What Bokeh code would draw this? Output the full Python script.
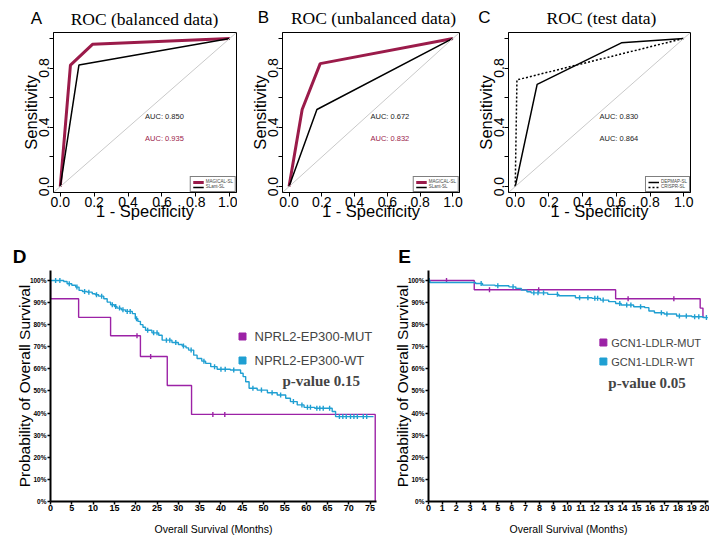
import math
from bokeh.plotting import figure
from bokeh.models import (Range1d, FixedTicker, CustomJSTickFormatter, Label, Slope,
                          Legend, LegendItem)
from bokeh.core.properties import value
from bokeh.layouts import row, column
from bokeh.embed import file_html
from bokeh.resources import INLINE

# ---------------- ROC data ----------------
roc_ticks = [0.0, 0.2, 0.4, 0.6, 0.8, 1.0]

a_title = "ROC (balanced data)"
a_magical_fpr = [0.0, 0.06, 0.19, 1.0]
a_magical_tpr = [0.0, 0.82, 0.96, 1.0]
a_slant_fpr = [0.0, 0.11, 1.0]
a_slant_tpr = [0.0, 0.82, 1.0]
a_auc = ["AUC: 0.850", "AUC: 0.935"]
a_legend = ["MAGICAL-SL", "SLant-SL"]

b_title = "ROC (unbalanced data)"
b_magical_fpr = [0.0, 0.08, 0.19, 1.0]
b_magical_tpr = [0.0, 0.52, 0.83, 1.0]
b_slant_fpr = [0.0, 0.17, 1.0]
b_slant_tpr = [0.0, 0.52, 1.0]
b_auc = ["AUC: 0.672", "AUC: 0.832"]
b_legend = ["MAGICAL-SL", "SLant-SL"]

c_title = "ROC (test data)"
c_depmap_fpr = [0.0, 0.13, 0.63, 1.0]
c_depmap_tpr = [0.0, 0.69, 0.97, 1.0]
c_crispr_fpr = [0.0, 0.01, 1.0]
c_crispr_tpr = [0.0, 0.72, 1.0]
c_auc = ["AUC: 0.830", "AUC: 0.864"]
c_legend = ["DEPMAP-SL", "CRISPR-SL"]

auc_pos_x = 0.615
auc_pos_y = [0.47, 0.325]

panel_letters = ["A", "B", "C", "D", "E"]

# ---------------- Kaplan-Meier data ----------------
d_ticks_x = [0, 5, 10, 15, 20, 25, 30, 35, 40, 45, 50, 55, 60, 65, 70, 75]
e_ticks_x = list(range(0, 21))
km_ticks_y = [0, 10, 20, 30, 40, 50, 60, 70, 80, 90, 100]

d_labels = ["NPRL2-EP300-MUT", "NPRL2-EP300-WT", "p-value 0.15"]
d_mut_times = [0.0, 6.6, 14.1, 21.1, 27.4, 33.1, 76.2]
d_mut_surv = [91.7, 83.3, 75.0, 65.6, 52.5, 39.4, 0.0]
d_mut_end = 76.2
d_mut_censor = [20.3, 23.5, 38.1, 40.9]

d_wt_times = [3.1, 3.9, 5.0, 5.9, 6.7, 7.5, 8.6, 9.8, 10.5, 11.3, 12.5, 13.3, 14.1,
              15.0, 15.6, 16.6, 17.6, 19.2, 19.9, 20.5, 21.1, 21.7, 22.3, 23.8, 25.4,
              26.2, 28.5, 30.0, 30.9, 31.8, 32.4, 33.6, 34.4, 35.5, 36.4, 37.6, 39.1,
              42.2, 44.6, 45.2, 45.8, 46.6, 48.5, 50.9, 53.2, 55.2, 56.3, 57.9, 59.5,
              62.0, 66.1, 66.9]
d_wt_surv = [99.5, 98.5, 97.8, 97.0, 95.5, 95.0, 94.7, 94.0, 93.5, 92.9, 91.7, 90.2, 89.0,
             88.2, 87.5, 86.7, 86.0, 85.0, 82.7, 81.5, 80.0, 78.8, 77.5, 76.3, 75.2,
             73.0, 71.9, 71.0, 70.3, 69.5, 68.5, 66.2, 64.7, 63.5, 62.5, 61.0, 59.8,
             59.5, 58.0, 56.5, 54.2, 51.2, 50.4, 49.2, 48.2, 46.7, 45.2, 43.7, 42.6,
             42.2, 40.7, 38.4]
d_wt_end = 75.8
d_wt_censor = [1.2, 2.2, 4.4, 6.2, 8.0, 9.0, 10.8, 12.0, 14.5, 15.3, 16.2, 17.0, 18.0,
               18.7, 20.2, 22.8, 24.2, 25.0, 27.2, 28.0, 29.4, 31.2, 33.0, 36.0, 38.5,
               40.0, 41.0, 43.0, 47.5, 49.5, 52.0, 54.0, 57.0, 59.0, 60.3, 61.0, 62.5,
               63.2, 64.0, 65.5, 67.8, 68.6, 69.4, 70.4, 71.2, 72.0, 73.4, 74.2]

e_labels = ["GCN1-LDLR-MUT", "GCN1-LDLR-WT", "p-value 0.05"]
e_mut_times = [3.3, 13.5, 19.6, 19.8]
e_mut_surv = [95.8, 91.7, 87.5, 83.3]
e_mut_end = 20.0
e_mut_censor = [1.3, 4.4, 7.95, 14.4, 17.7]

e_wt_times = [0.1, 3.4, 3.9, 4.8, 5.8, 6.3, 6.7, 7.1, 7.4, 8.6, 9.4, 10.6, 11.8, 12.4,
              13.0, 13.5, 13.9, 14.8, 15.6, 15.9, 16.3, 17.0, 17.9, 19.0, 19.8]
e_wt_surv = [99.1, 98.6, 97.9, 97.6, 97.1, 96.4, 95.6, 94.9, 94.4, 93.7, 93.1, 92.2, 91.9,
             91.1, 90.4, 89.6, 88.9, 88.1, 87.7, 86.2, 85.4, 84.8, 83.9, 83.6, 83.2]
e_wt_end = 20.15
e_wt_censor = [0.05, 3.8, 5.0, 6.1, 7.6, 7.9, 8.3, 9.3, 10.9, 11.5, 12.0, 12.2, 12.6,
               13.8, 14.3, 14.6, 15.3, 16.8, 17.2, 18.1, 18.6, 19.2, 19.5, 20.05]

# ---------------- styling ----------------
CRIMSON = "#9B1B4A"
PURPLE = "#9C22A6"
CYAN = "#1F9FD2"
SANS = "Liberation Sans"
SERIF = "Liberation Serif"
PAGE_W = 709


def header(height, texts):
    """A strip without axes that carries panel letters and titles (page px coords)."""
    h = figure(width=PAGE_W, height=height, x_range=Range1d(0, PAGE_W),
               y_range=Range1d(0, height), x_axis_type=None, y_axis_type=None,
               min_border=0, output_backend="svg", toolbar_location=None)
    h.grid.visible = False
    h.outline_line_color = None
    for txt, x, y, font, size, style in texts:
        h.text(x=[x], y=[y], text=[txt], text_font=value(font), text_font_size=value(size),
               text_font_style=style, text_align="center", text_baseline="middle",
               text_color="black")
    return h


def roc_panel(curves, aucs, auc_colors, width, border_left, border_right):
    lo, hi = -0.04, 1.04
    p = figure(width=width, height=204, x_range=Range1d(lo, hi), y_range=Range1d(lo, hi),
               min_border_left=border_left, min_border_right=border_right,
               min_border_top=4, min_border_bottom=40,
               output_backend="svg", toolbar_location=None)
    p.grid.visible = False
    p.outline_line_color = "black"
    p.outline_line_alpha = 1.0
    p.outline_line_width = 1

    p.add_layout(Slope(gradient=1, y_intercept=0, line_color="#c9c9c9", line_width=1))
    items = []
    for xs, ys, col, lw, dash, lab in curves:
        r = p.line(xs, ys, line_color=col, line_width=lw, line_dash=dash)
        items.append(LegendItem(label=lab, renderers=[r]))

    for txt, yy, col in zip(aucs, auc_pos_y, auc_colors):
        p.add_layout(Label(x=auc_pos_x, y=yy, text=txt, text_font=SANS,
                           text_font_size="7.5px", text_color=col,
                           text_align="center", text_baseline="middle"))

    leg = Legend(items=items, location="bottom_right", label_text_font_size="4.5px",
                 label_text_font=SANS, glyph_width=11, glyph_height=4, label_height=4,
                 label_standoff=2, padding=2, spacing=0, margin=0,
                 border_line_color="black", border_line_width=0.6,
                 background_fill_color="white", background_fill_alpha=1.0)
    p.add_layout(leg)

    xa = p.xaxis[0]
    xa.ticker = FixedTicker(ticks=roc_ticks)
    xa.formatter = CustomJSTickFormatter(code="return tick.toFixed(1);")
    ya = p.yaxis[0]
    ya.ticker = FixedTicker(ticks=roc_ticks)
    ya.formatter = CustomJSTickFormatter(
        code="return (Math.round(tick*10) % 4 == 0) ? tick.toFixed(1) : '';")
    ya.major_label_orientation = "vertical"
    for ax in (xa, ya):
        ax.axis_line_color = "black"
        ax.major_tick_line_color = "black"
        ax.major_tick_out = 4
        ax.major_tick_in = 0
        ax.minor_tick_line_color = None
        ax.major_label_standoff = 0
        ax.major_label_text_font = SANS
        ax.major_label_text_font_size = "14px"
        ax.major_label_text_color = "black"
        ax.axis_label_text_font = SANS
        ax.axis_label_text_font_size = "16.5px"
        ax.axis_label_text_font_style = "normal"
        ax.axis_label_text_color = "black"
    xa.axis_label = "1 - Specificity"
    xa.axis_label_standoff = -8
    ya.axis_label = "Sensitivity"
    ya.axis_label_standoff = -3
    return p


def step_xy(times, surv, end):
    xs = [0.0] + list(times) + [end]
    ys = [100.0] + list(surv) + [surv[-1]]
    return xs, ys


def surv_at(t, times, surv):
    s = 100.0
    for ti, si in zip(times, surv):
        if ti <= t:
            s = si
    return s


def km_panel(groups, labels, xticks, xmax, width, border_left, border_right,
             frame_left, sq_px, txt_px, pv_px, legend_size, ylab_standoff):
    ymax = 104.5
    top, bottom, height = 2, 36, 269
    fh = height - top - bottom
    fw = width - border_left - border_right
    frame_top = 270
    p = figure(width=width, height=height, x_range=Range1d(0, xmax),
               y_range=Range1d(0, ymax),
               min_border_left=border_left, min_border_right=border_right,
               min_border_top=top, min_border_bottom=bottom,
               output_backend="svg", toolbar_location=None)
    p.grid.visible = False
    p.outline_line_color = None

    def px2x(px):
        return (px - frame_left) * xmax / fw

    def py2y(py):
        return ymax - (py - frame_top) * ymax / fh

    for times, surv, end, cens, col in groups:
        xs, ys = step_xy(times, surv, end)
        p.step(xs, ys, mode="after", line_color=col, line_width=1.4)
        cy = [surv_at(t, times, surv) for t in cens]
        p.scatter(cens, cy, marker="dash", angle=math.pi / 2, size=5,
                  line_color=col, line_width=1.4)

    cols = [groups[0][4], groups[1][4]]
    for (sx, sy), (tx, ty), lab, col in zip(sq_px, txt_px, labels[:2], cols):
        p.scatter([px2x(sx)], [py2y(sy)], marker="square", size=7,
                  fill_color=col, line_color=col)
        p.add_layout(Label(x=px2x(tx), y=py2y(ty), text=lab, text_font=SANS,
                           text_font_size=legend_size, text_baseline="middle"))
    p.add_layout(Label(x=px2x(pv_px[0]), y=py2y(pv_px[1]), text=labels[2],
                       text_font=SERIF, text_font_size="15px", text_font_style="bold",
                       text_baseline="middle"))

    xa = p.xaxis[0]
    xa.ticker = FixedTicker(ticks=xticks)
    ya = p.yaxis[0]
    ya.ticker = FixedTicker(ticks=km_ticks_y)
    ya.formatter = CustomJSTickFormatter(code="return tick.toFixed(0) + '%';")
    for ax in (xa, ya):
        ax.axis_line_color = "black"
        ax.axis_line_width = 2
        ax.major_tick_line_color = "black"
        ax.major_tick_line_width = 1.5
        ax.major_tick_out = 3
        ax.major_tick_in = 0
        ax.minor_tick_line_color = None
        ax.major_label_text_font = SANS
        ax.major_label_text_font_style = "bold"
        ax.major_label_text_color = "black"
        ax.axis_label_text_font = SANS
        ax.axis_label_text_font_style = "normal"
        ax.axis_label_text_color = "black"
    xa.major_label_text_font_size = "9px"
    xa.major_label_standoff = 0
    xa.axis_label = "Overall Survival (Months)"
    xa.axis_label_text_font_size = "10.5px"
    xa.axis_label_standoff = 9
    ya.major_label_text_font_size = "6.5px"
    ya.major_label_standoff = 1
    ya.axis_label = "Probability of Overall Survival"
    ya.axis_label_text_font_size = "15.5px"
    ya.axis_label_standoff = ylab_standoff
    return p


# header strip above the ROC panels (x = page px, y measured up from strip bottom)
top_header = header(28, [
    (panel_letters[0], 36, 10, SANS, "17px", "normal"),
    (a_title, 144, 10, SERIF, "17.5px", "normal"),
    (panel_letters[1], 263, 11, SANS, "17px", "normal"),
    (b_title, 373, 11, SERIF, "17.5px", "normal"),
    (panel_letters[2], 484, 11, SANS, "17px", "normal"),
    (c_title, 601, 11, SERIF, "17.5px", "normal"),
])

pa = roc_panel([(a_magical_fpr, a_magical_tpr, CRIMSON, 3, "solid", a_legend[0]),
                (a_slant_fpr, a_slant_tpr, "black", 1.5, "solid", a_legend[1])],
               a_auc, ["#222222", CRIMSON], 237, 53, 1)
pb = roc_panel([(b_magical_fpr, b_magical_tpr, CRIMSON, 3, "solid", b_legend[0]),
                (b_slant_fpr, b_slant_tpr, "black", 1.5, "solid", b_legend[1])],
               b_auc, ["#222222", CRIMSON], 226, 45, 4)
pc = roc_panel([(c_depmap_fpr, c_depmap_tpr, "black", 1.5, "solid", c_legend[0]),
                (c_crispr_fpr, c_crispr_tpr, "black", 1.5, "2 2", c_legend[1])],
               c_auc, ["#222222", "#222222"], 237, 45, 10)

mid_header = header(36, [
    (panel_letters[3], 19, 12, SANS, "19px", "bold"),
    (panel_letters[4], 404, 12, SANS, "19px", "bold"),
])

pd = km_panel([(d_mut_times, d_mut_surv, d_mut_end, d_mut_censor, PURPLE),
               (d_wt_times, d_wt_surv, d_wt_end, d_wt_censor, CYAN)],
              d_labels, d_ticks_x, 76.5, 390, 50, 14, 50,
              [(242, 336), (242, 360)], [(254, 336), (254, 360)], (282, 380), "13px", -6)
pe = km_panel([(e_mut_times, e_mut_surv, e_mut_end, e_mut_censor, PURPLE),
               (e_wt_times, e_wt_surv, e_wt_end, e_wt_censor, CYAN)],
              e_labels, e_ticks_x, 20.2, 319, 33, 1, 423,
              [(601, 342), (601, 361)], [(609, 342), (609, 361)], (606, 382), "11px", -6)

layout = column(top_header, row(pa, pb, pc), mid_header, row(pd, pe))
open("out.html", "w").write(file_html(layout, INLINE))
